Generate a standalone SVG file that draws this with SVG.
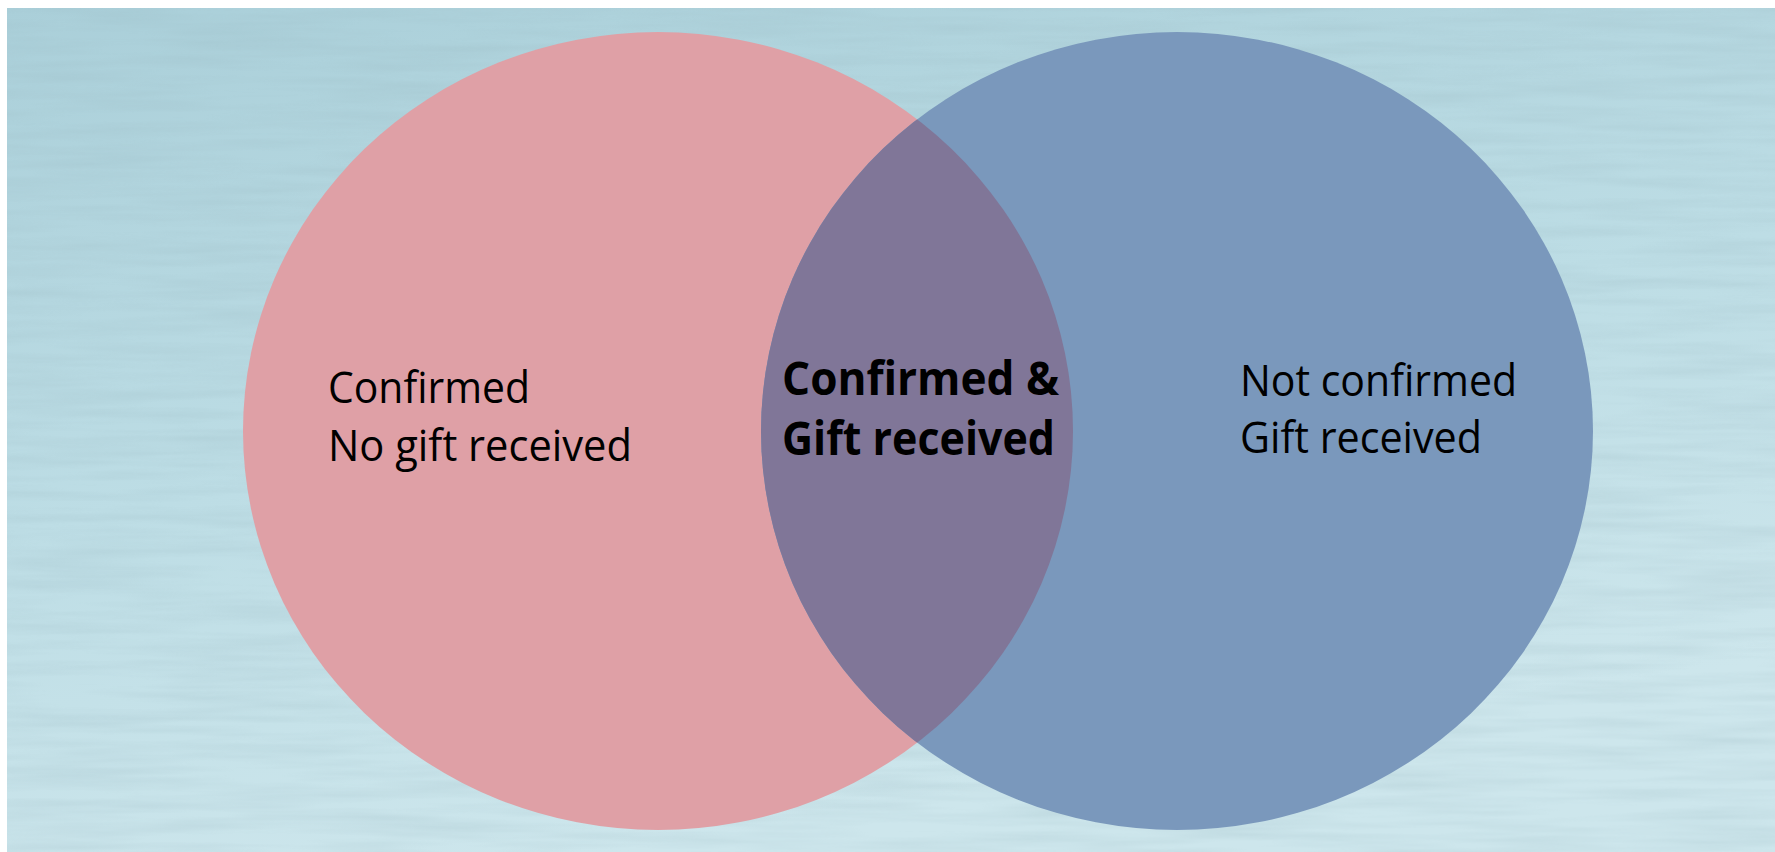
<svg xmlns="http://www.w3.org/2000/svg" width="1775" height="852" viewBox="0 0 1775 852">
  <defs>
    <linearGradient id="bg" x1="0" y1="0" x2="0.35" y2="1">
      <stop offset="0" stop-color="#aacfd9"/>
      <stop offset="0.55" stop-color="#bddde5"/>
      <stop offset="1" stop-color="#cde6ec"/>
    </linearGradient>
    <filter id="grain" x="0" y="0" width="100%" height="100%">
      <feTurbulence type="fractalNoise" baseFrequency="0.006 0.09" numOctaves="3" seed="7" result="n"/>
      <feColorMatrix type="matrix" values="0 0 0 0 0.3  0 0 0 0 0.45  0 0 0 0 0.5  0 0 0 -1.6 1.05"/>
    </filter>
    <clipPath id="rightClip">
      <ellipse cx="1177" cy="431" rx="416" ry="399"/>
    </clipPath>
    <style>
      .lbl { font-family: "Open Sans", "Liberation Sans", sans-serif; font-size: 44px; fill: #000; }
      .bold { font-weight: 700; font-size: 46px; }
    </style>
  </defs>

  <rect x="0" y="0" width="1775" height="852" fill="#ffffff"/>
  <rect x="7" y="8" width="1768" height="844" fill="url(#bg)"/>
  <rect x="7" y="8" width="1768" height="844" filter="url(#grain)" opacity="0.22"/>

  <g id="set-confirmed">
    <ellipse cx="658" cy="431" rx="415" ry="399" fill="#dfa0a6"/>
    <text class="lbl" x="328" y="403" textLength="202" lengthAdjust="spacingAndGlyphs">Confirmed</text>
    <text class="lbl" x="328" y="461" textLength="304" lengthAdjust="spacingAndGlyphs">No gift received</text>
  </g>

  <g id="set-gift">
    <ellipse cx="1177" cy="431" rx="416" ry="399" fill="#7a98bc"/>
    <text class="lbl" x="1240" y="396" textLength="277" lengthAdjust="spacingAndGlyphs">Not confirmed</text>
    <text class="lbl" x="1240" y="453" textLength="242" lengthAdjust="spacingAndGlyphs">Gift received</text>
  </g>

  <g id="overlap">
    <ellipse cx="658" cy="431" rx="415" ry="399" fill="#807698" clip-path="url(#rightClip)"/>
    <text class="lbl bold" x="782" y="395" textLength="277" lengthAdjust="spacingAndGlyphs">Confirmed &amp;</text>
    <text class="lbl bold" x="782" y="455" textLength="273" lengthAdjust="spacingAndGlyphs">Gift received</text>
  </g>
</svg>
